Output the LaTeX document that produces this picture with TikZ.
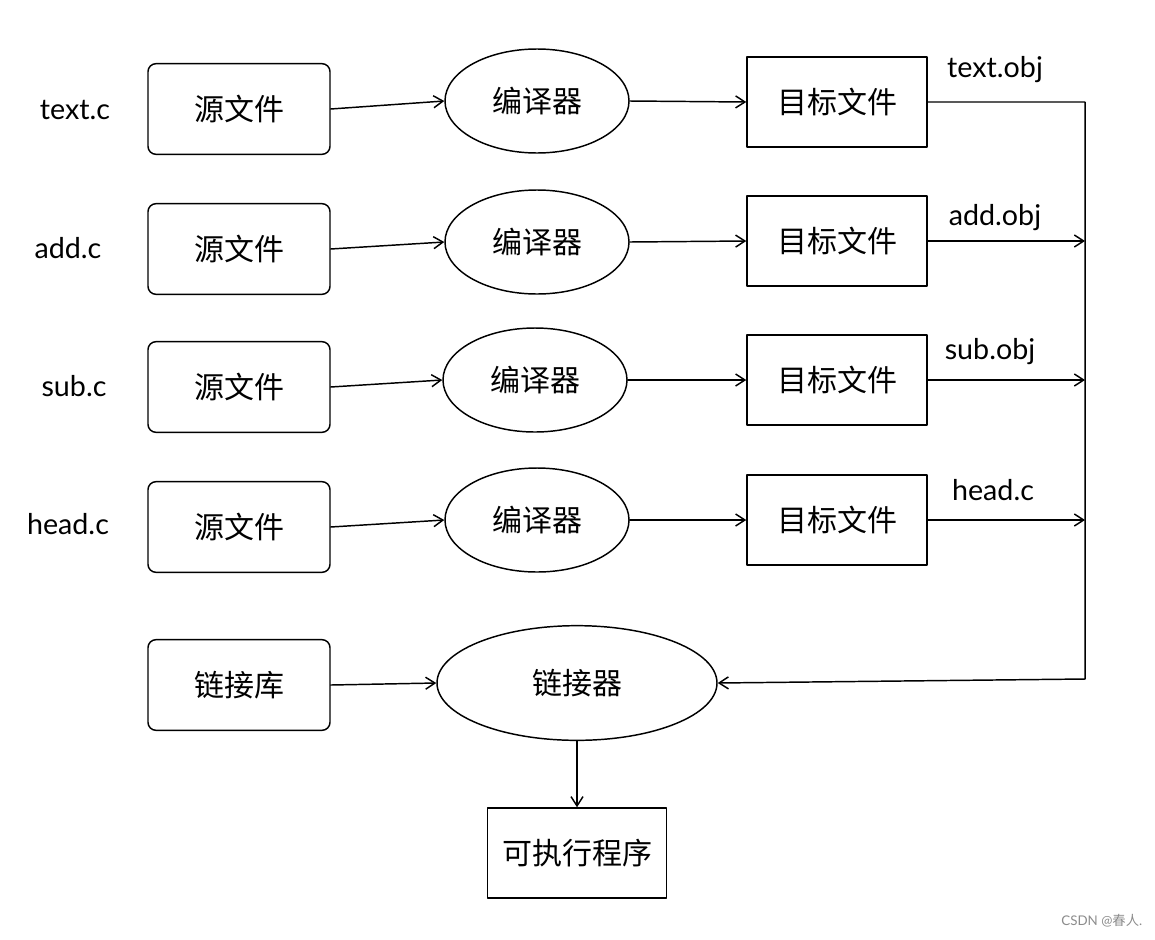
\documentclass[tikz,border=0pt]{standalone}
\usepackage{fontspec}
\setmainfont{Lato}
\newfontfamily\cjk{Noto Sans CJK SC}
\usetikzlibrary{arrows.meta,shapes.geometric}
\begin{document}
\begin{tikzpicture}[x=0.75pt,y=-0.75pt,
  line width=1.1pt, line join=round, line cap=round,
  srcbox/.style={draw, rounded corners=6pt, minimum width=136.5pt, minimum height=68pt, font=\cjk\fontsize{22.5}{26}\selectfont, inner sep=0pt},
  tgtbox/.style={draw, minimum width=135pt, minimum height=67.5pt, font=\cjk\fontsize{22.5}{26}\selectfont, inner sep=0pt},
  compell/.style={draw, ellipse, minimum width=138pt, minimum height=78pt, font=\cjk\fontsize{22.5}{26}\selectfont, inner sep=0pt},
  lbl/.style={font=\fontsize{21.5}{24}\selectfont, inner sep=0pt},
  arr/.style={-{Straight Barb[length=7pt,width=9pt,line width=1.1pt]}},
]
\useasboundingbox[fill=white] (0,0) rectangle (1155,939);

% left labels
\node[lbl] (l1) at (75,110) {text.c};
\node[lbl] (l2) at (68,248) {add.c};
\node[lbl] (l3) at (74,386) {sub.c};
\node[lbl] (l4) at (68,524) {head.c};

% source boxes
\node[srcbox] (s1) at (239,109) {源文件};
\node[srcbox] (s2) at (239,249) {源文件};
\node[srcbox] (s3) at (239,387) {源文件};
\node[srcbox] (s4) at (239,527) {源文件};
\node[srcbox] (lib) at (239,685) {链接库};

% compilers
\node[compell] (c1) at (537,101) {编译器};
\node[compell] (c2) at (537,242) {编译器};
\node[compell] (c3) at (535,380) {编译器};
\node[compell] (c4) at (537,520) {编译器};

% targets
\node[tgtbox] (t1) at (837,102) {目标文件};
\node[tgtbox] (t2) at (837,241) {目标文件};
\node[tgtbox] (t3) at (837,380) {目标文件};
\node[tgtbox] (t4) at (837,520) {目标文件};

% linker and executable
\node[compell, minimum width=210pt, minimum height=86pt] (lk) at (577,683) {链接器};
\node[tgtbox, minimum width=134pt] (ex) at (577,853) {可执行程序};

% object labels
\node[lbl] (o1) at (995,70) {text.obj};
\node[lbl] (o2) at (995,218) {add.obj};
\node[lbl] (o3) at (990,352) {sub.obj};
\node[lbl] (o4) at (993,490) {head.c};

% arrows source -> compiler
\draw[arr] (s1.east) -- (c1.west);
\draw[arr] (s2.east) -- (c2.west);
\draw[arr] (s3.east) -- (c3.west);
\draw[arr] (s4.east) -- (c4.west);
\draw[arr] (lib.east) -- (lk.west);

% compiler -> target
\draw[arr] (c1.east) -- (t1.west);
\draw[arr] (c2.east) -- (t2.west);
\draw[arr] (c3.east) -- (t3.west);
\draw[arr] (c4.east) -- (t4.west);

% collector
\coordinate (v1) at (1085,102);
\coordinate (v5) at (1085,679);
\draw[arr] (t1.east) -- (v1) -- (v5) -- (lk.east);
\draw[arr] (t2.east) -- (t2.east -| v1);
\draw[arr] (t3.east) -- (t3.east -| v1);
\draw[arr] (t4.east) -- (t4.east -| v1);

% linker -> executable
\draw[arr] (lk.south) -- (ex.north);

% watermark
\node[anchor=east, text=black!45, font=\fontsize{10}{12}\selectfont, inner sep=0pt] (wm) at (1143,921) {CSDN @{\cjk 春人}.};
\end{tikzpicture}
\end{document}
